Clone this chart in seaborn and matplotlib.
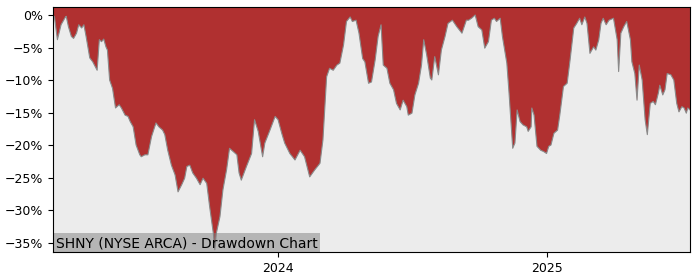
import matplotlib
matplotlib.use("Agg")
import matplotlib.pyplot as plt
import matplotlib.dates as mdates
from matplotlib.ticker import FuncFormatter
import seaborn as sns
import pandas as pd

dates = [
    "2023-03-01", "2023-03-03", "2023-03-07", "2023-03-12", "2023-03-18", "2023-03-19",
    "2023-03-22", "2023-03-26", "2023-03-29", "2023-04-02", "2023-04-05", "2023-04-09",
    "2023-04-12", "2023-04-15", "2023-04-20", "2023-04-24", "2023-04-30", "2023-05-03",
    "2023-05-06", "2023-05-09", "2023-05-12", "2023-05-14", "2023-05-17", "2023-05-21",
    "2023-05-25", "2023-05-30", "2023-06-02", "2023-06-07", "2023-06-11", "2023-06-14",
    "2023-06-18", "2023-06-22", "2023-06-27", "2023-06-29", "2023-07-04", "2023-07-08",
    "2023-07-13", "2023-07-19", "2023-07-23", "2023-07-28", "2023-07-31", "2023-08-04",
    "2023-08-09", "2023-08-14", "2023-08-18", "2023-08-23", "2023-08-27", "2023-08-30",
    "2023-09-03", "2023-09-07", "2023-09-12", "2023-09-17", "2023-09-21", "2023-09-26",
    "2023-09-30", "2023-10-05", "2023-10-07", "2023-10-09", "2023-10-14", "2023-10-18",
    "2023-10-23", "2023-10-27", "2023-11-01", "2023-11-06", "2023-11-09", "2023-11-12",
    "2023-11-19", "2023-11-26", "2023-11-30", "2023-12-05", "2023-12-11", "2023-12-14",
    "2023-12-21", "2023-12-28", "2024-01-01", "2024-01-06", "2024-01-10", "2024-01-17",
    "2024-01-24", "2024-01-31", "2024-02-06", "2024-02-13", "2024-02-20", "2024-02-27",
    "2024-03-02", "2024-03-07", "2024-03-11", "2024-03-16", "2024-03-21", "2024-03-25",
    "2024-03-30", "2024-04-03", "2024-04-08", "2024-04-11", "2024-04-16", "2024-04-20",
    "2024-04-25", "2024-04-28", "2024-05-03", "2024-05-07", "2024-05-12", "2024-05-16",
    "2024-05-20", "2024-05-23", "2024-05-28", "2024-06-01", "2024-06-06", "2024-06-10",
    "2024-06-15", "2024-06-19", "2024-06-24", "2024-06-26", "2024-07-01", "2024-07-05",
    "2024-07-10", "2024-07-14", "2024-07-17", "2024-07-21", "2024-07-26", "2024-07-28",
    "2024-08-01", "2024-08-06", "2024-08-10", "2024-08-15", "2024-08-19", "2024-08-25",
    "2024-08-31", "2024-09-07", "2024-09-13", "2024-09-16", "2024-09-20", "2024-09-25",
    "2024-09-29", "2024-10-04", "2024-10-08", "2024-10-13", "2024-10-17", "2024-10-21",
    "2024-10-24", "2024-10-29", "2024-11-01", "2024-11-07", "2024-11-10", "2024-11-15",
    "2024-11-18", "2024-11-21", "2024-11-25", "2024-11-29", "2024-12-04", "2024-12-06",
    "2024-12-10", "2024-12-11", "2024-12-14", "2024-12-18", "2024-12-23", "2024-12-27",
    "2024-12-31", "2025-01-03", "2025-01-06", "2025-01-10", "2025-01-15", "2025-01-18",
    "2025-01-23", "2025-01-28", "2025-02-01", "2025-02-06", "2025-02-10", "2025-02-14",
    "2025-02-17", "2025-02-21", "2025-02-24", "2025-02-28", "2025-03-05", "2025-03-08",
    "2025-03-12", "2025-03-15", "2025-03-18", "2025-03-22", "2025-03-26", "2025-04-01",
    "2025-04-06", "2025-04-08", "2025-04-11", "2025-04-15", "2025-04-19", "2025-04-24",
    "2025-04-26", "2025-04-30", "2025-05-03", "2025-05-06", "2025-05-10", "2025-05-12",
    "2025-05-14", "2025-05-17", "2025-05-21", "2025-05-25", "2025-05-28", "2025-06-01",
    "2025-06-03", "2025-06-07", "2025-06-10", "2025-06-13", "2025-06-18", "2025-06-22",
    "2025-06-26", "2025-06-29", "2025-07-03", "2025-07-06", "2025-07-09", "2025-07-11",
    "2025-07-14",
]

drawdown = [
    0.0, -0.3, -3.8, -1.5, -0.3, -0.2,
    -1.8, -3.3, -3.6, -2.8, -1.5, -2.0,
    -1.5, -3.3, -6.6, -7.2, -8.5, -3.8,
    -4.1, -3.7, -4.9, -5.4, -10.0, -11.3,
    -14.3, -13.8, -14.3, -15.4, -15.6, -16.4,
    -17.2, -20.0, -21.5, -21.8, -21.5, -21.5,
    -18.7, -16.6, -17.2, -17.7, -18.4, -20.8,
    -23.1, -24.6, -27.2, -26.1, -25.1, -23.3,
    -23.1, -24.3, -25.1, -26.1, -25.1, -25.9,
    -29.5, -33.6, -36.1, -33.6, -31.0, -26.9,
    -23.8, -20.5, -21.0, -21.5, -24.3, -25.4,
    -23.3, -21.3, -16.1, -17.9, -21.8, -19.7,
    -17.7, -15.6, -16.1, -18.2, -19.7, -21.3,
    -22.3, -20.8, -21.8, -24.9, -23.8, -22.8,
    -19.2, -9.5, -8.2, -8.5, -7.7, -7.4,
    -4.6, -1.0, -0.3, -1.0, -0.8, -2.8,
    -6.7, -7.2, -10.5, -10.3, -6.9, -3.3,
    -1.5, -7.7, -8.2, -10.5, -11.5, -13.6,
    -14.6, -13.1, -14.1, -15.4, -15.1, -12.3,
    -10.5, -7.7, -3.8, -6.1, -9.7, -10.0,
    -6.4, -9.2, -5.4, -3.3, -1.3, -0.8,
    -1.8, -2.8, -0.8, -0.8, -0.5, 0.0,
    -1.8, -2.3, -5.1, -4.1, -0.8, -0.5,
    -1.0, -0.5, -3.3, -7.4, -12.0, -20.5,
    -19.7, -14.6, -16.4, -16.9, -17.2, -17.9,
    -17.2, -14.3, -15.4, -20.2, -20.8, -21.0,
    -21.3, -20.2, -20.0, -18.2, -17.7, -15.4,
    -11.0, -10.5, -6.9, -2.0, -1.3, -0.5,
    -1.5, -0.3, -1.3, -5.9, -4.9, -5.4,
    -3.8, -1.3, -0.5, -1.5, -0.8, -0.5,
    -3.8, -8.7, -2.8, -1.8, -1.0, -3.8,
    -7.2, -9.0, -13.1, -7.7, -10.0, -13.1,
    -16.1, -18.4, -13.6, -13.3, -13.8, -12.0,
    -10.8, -12.3, -11.5, -9.0, -9.2, -10.0,
    -13.6, -14.9, -14.1, -14.3, -15.1, -14.3,
    -14.6,
]

yticks = [0, -5, -10, -15, -20, -25, -30, -35]
title_text = "SHNY (NYSE ARCA) - Drawdown Chart"

df = pd.DataFrame({"date": pd.to_datetime(dates), "dd": drawdown})

fig = plt.figure(figsize=(7, 2.8), dpi=100)
ax = fig.add_axes([0.0757, 0.1, 0.91, 0.875])
ax.set_facecolor("#ececec")

ax.fill_between(df["date"], 10, df["dd"], color="#b03030", linewidth=0, zorder=2)
sns.lineplot(data=df, x="date", y="dd", ax=ax, color="#8a8a8a", linewidth=0.8, zorder=3)

ax.set_xlim(df["date"].iloc[0], df["date"].iloc[-1])
ax.set_ylim(-36.45, 1.23)
ax.set_yticks(yticks)
ax.yaxis.set_major_formatter(FuncFormatter(lambda v, p: f"{int(v)}%".replace("-", "\u2212")))
ax.xaxis.set_major_locator(mdates.YearLocator())
ax.xaxis.set_major_formatter(mdates.DateFormatter("%Y"))
ax.set_xlabel("")
ax.set_ylabel("")
ax.tick_params(labelsize=9)

ax.text(0.004, 0.008, title_text, transform=ax.transAxes, fontsize=10,
        ha="left", va="bottom", zorder=5,
        bbox=dict(facecolor="#808080", alpha=0.5, edgecolor="none", pad=2))

for s in ax.spines.values():
    s.set_color("black")
    s.set_zorder(6)

fig.savefig("out.png", dpi=100)
